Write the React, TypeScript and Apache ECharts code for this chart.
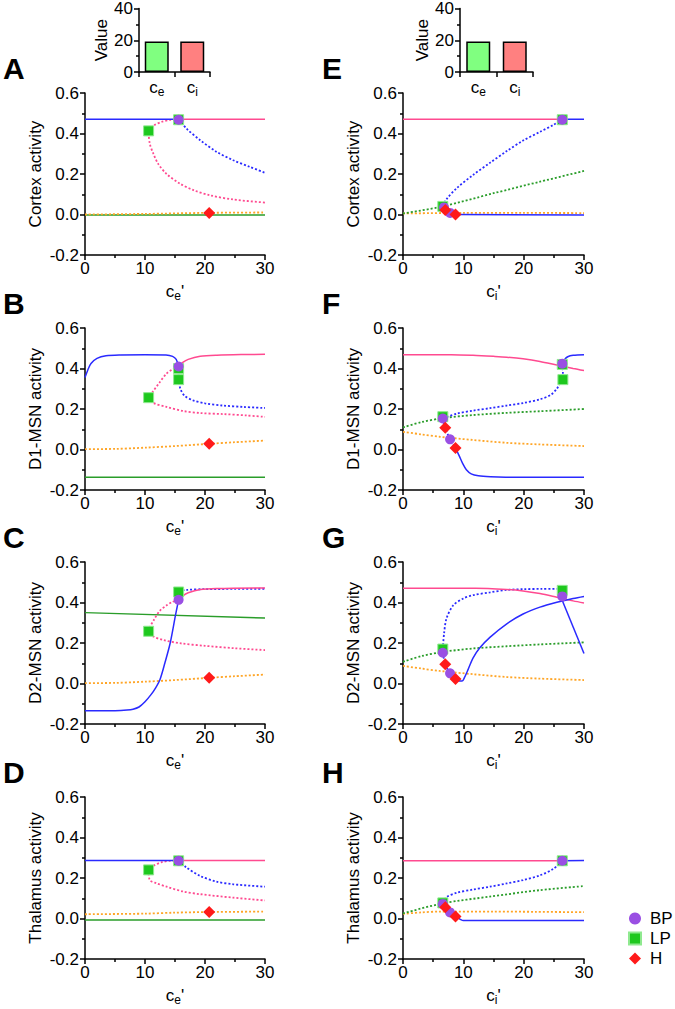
import React, { useEffect, useRef } from 'react';
import * as echarts from 'echarts';

const FONT = "'Liberation Sans', Arial, Helvetica, sans-serif";
const BLUE = '#2a2aff';
const PINK = '#ff4a90';
const GREEN = '#2a9d2a';
const ORANGE = '#ffa526';
const PURPLE = '#9a4fe3';
const LPGREEN = '#1ec81e';
const RED = '#ff1a1a';

// ---------- Bar insets ----------
const barCategories = ['ce', 'ci'];
const barValuesLeft = [19.2, 19.2];
const barValuesRight = [19.2, 19.2];
const barTicks = [0, 20, 40];

// ---------- Panel A: Cortex vs ce' ----------
const aBlueSolid = [[0, 0.47], [15.7, 0.47]];
const aPinkSolid = [[15.7, 0.47], [30, 0.47]];
const aBlueDot = [[15.7, 0.47], [16.9, 0.425], [19.2, 0.367], [21.9, 0.31], [24.7, 0.268], [27.5, 0.235], [30, 0.206]];
const aPinkDot = [[15.7, 0.47], [14.2, 0.467], [12.8, 0.458], [11.5, 0.44], [10.6, 0.41], [10.8, 0.35], [11.4, 0.3], [12.2, 0.25], [13.6, 0.2], [15.8, 0.153], [18.1, 0.12], [20.8, 0.095], [24.7, 0.074], [30, 0.059]];
const aGreenSolid = [[0, -0.003], [30, -0.003]];
const aOrangeDot = [[0, 0.0], [10, 0.003], [20, 0.008], [30, 0.01]];
const aBP = [[15.6, 0.468]];
const aLP = [[10.6, 0.413], [15.6, 0.468]];
const aH = [[20.7, 0.008]];

// ---------- Panel B: D1-MSN vs ce' ----------
const bBlueSolid = [[0, 0.355], [0.5, 0.395], [1, 0.425], [2, 0.45], [3.5, 0.463], [6, 0.467], [10, 0.468], [13.5, 0.467], [14.6, 0.46], [15.2, 0.445], [15.6, 0.41]];
const bPinkSolid = [[15.6, 0.41], [16.3, 0.43], [17.2, 0.445], [19.2, 0.46], [22, 0.466], [26, 0.469], [30, 0.47]];
const bBlueDot = [[15.6, 0.41], [15.6, 0.345], [15.9, 0.3], [16.6, 0.265], [18, 0.243], [20, 0.228], [23, 0.217], [26.5, 0.21], [30, 0.205]];
const bPinkDot = [[15.6, 0.41], [14.7, 0.398], [13.6, 0.375], [12.4, 0.33], [11.3, 0.285], [10.6, 0.255], [11.4, 0.23], [13.6, 0.21], [16.4, 0.19], [19.2, 0.18], [23, 0.175], [27, 0.168], [30, 0.161]];
const bGreenSolid = [[0, -0.137], [30, -0.137]];
const bOrangeDot = [[0, 0.002], [5, 0.003], [10, 0.009], [15, 0.017], [20.7, 0.028], [25, 0.036], [30, 0.044]];
const bBP = [[15.6, 0.41]];
const bLP = [[10.6, 0.256], [15.6, 0.4], [15.6, 0.345]];
const bH = [[20.7, 0.028]];

// ---------- Panel C: D2-MSN vs ce' ----------
const cBlueSolid = [[0, -0.135], [5, -0.134], [7, -0.131], [8, -0.127], [9, -0.116], [10, -0.09], [11, -0.055], [11.8, -0.02], [12.5, 0.02], [13.3, 0.1], [14.2, 0.2], [15.1, 0.34], [15.6, 0.413]];
const cPinkSolid = [[15.6, 0.413], [16.3, 0.433], [17.2, 0.448], [19.2, 0.464], [22, 0.469], [30, 0.472]];
const cBlueDot = [[15.6, 0.413], [15.6, 0.452], [17, 0.462], [20, 0.466], [25, 0.467], [30, 0.468]];
const cPinkDot = [[15.6, 0.413], [14.5, 0.402], [13.6, 0.386], [12.5, 0.36], [11.5, 0.315], [10.6, 0.258], [11.4, 0.232], [13, 0.215], [16, 0.198], [20, 0.186], [25, 0.174], [30, 0.165]];
const cGreenSolid = [[0, 0.35], [30, 0.323]];
const cOrangeDot = [[0, 0.002], [5, 0.003], [10, 0.009], [15, 0.017], [20.7, 0.028], [25, 0.036], [30, 0.044]];
const cBP = [[15.6, 0.413]];
const cLP = [[10.6, 0.258], [15.6, 0.452]];
const cH = [[20.7, 0.028]];

// ---------- Panel D: Thalamus vs ce' ----------
const dBlueSolid = [[0, 0.287], [15.6, 0.287]];
const dPinkSolid = [[15.6, 0.287], [30, 0.287]];
const dBlueDot = [[15.6, 0.287], [16.9, 0.252], [19.2, 0.21], [21.9, 0.182], [24.7, 0.169], [30, 0.157]];
const dPinkDot = [[15.6, 0.287], [14.2, 0.285], [12.8, 0.278], [11.5, 0.262], [10.6, 0.24], [10.8, 0.19], [11.9, 0.174], [13.6, 0.157], [16.4, 0.133], [19.2, 0.12], [24.7, 0.103], [30, 0.089]];
const dGreenSolid = [[0, -0.008], [30, -0.008]];
const dOrangeDot = [[0, 0.021], [10, 0.024], [15, 0.029], [20.7, 0.032], [30, 0.034]];
const dBP = [[15.6, 0.285]];
const dLP = [[10.6, 0.24], [15.6, 0.285]];
const dH = [[20.7, 0.032]];

// ---------- Panel E: Cortex vs ci' ----------
const ePinkSolid = [[0, 0.47], [26.4, 0.47]];
const eBlueSolidTop = [[26.4, 0.47], [30, 0.47]];
const eBlueDot = [[6.6, 0.04], [7.2, 0.075], [8.9, 0.13], [11.6, 0.195], [14.4, 0.255], [17.2, 0.313], [19.9, 0.365], [22.7, 0.408], [24.9, 0.442], [26.4, 0.468]];
const eBlueLowDot = [[6.6, 0.04], [7.0, 0.022], [7.8, 0.008], [8.7, 0.0]];
const eBlueSolidLow = [[8.7, 0.0], [30, -0.003]];
const eGreenDot = [[0, 0.005], [6.6, 0.04], [15, 0.105], [22.7, 0.162], [30, 0.215]];
const eOrangeDot = [[0, 0.005], [10, 0.008], [20, 0.008], [30, 0.007]];
const eBP = [[6.8, 0.035], [7.8, 0.008], [26.4, 0.468]];
const eLP = [[6.6, 0.04], [26.4, 0.468]];
const eH = [[7.0, 0.022], [8.7, 0.0]];

// ---------- Panel F: D1-MSN vs ci' ----------
const fPinkSolid = [[0, 0.468], [8, 0.468], [11.6, 0.465], [15, 0.46], [17.2, 0.456], [19.9, 0.448], [22.7, 0.435], [25.5, 0.417], [28.2, 0.4], [30, 0.39]];
const fBlueSolidTop = [[26.4, 0.424], [26.8, 0.445], [27.3, 0.458], [28.2, 0.465], [30, 0.468]];
const fBlueDot = [[6.6, 0.153], [8.9, 0.177], [11.6, 0.192], [14.4, 0.204], [17.2, 0.217], [20, 0.23], [22.7, 0.248], [24.5, 0.27], [25.5, 0.3], [26.1, 0.33], [26.4, 0.345], [26.5, 0.38], [26.4, 0.424]];
const fBlueLowDot = [[6.6, 0.153], [7.0, 0.108], [7.8, 0.05], [8.7, 0.007]];
const fBlueSolidLow = [[8.7, 0.007], [9.3, -0.03], [9.9, -0.07], [10.5, -0.1], [11.3, -0.12], [12.5, -0.13], [14.5, -0.135], [17, -0.137], [30, -0.137]];
const fGreenDot = [[0, 0.109], [3, 0.135], [6.6, 0.155], [11.6, 0.17], [17.2, 0.181], [22.7, 0.189], [30, 0.2]];
const fOrangeDot = [[0, 0.087], [3, 0.075], [6.1, 0.063], [11.6, 0.047], [17.2, 0.033], [22.7, 0.025], [30, 0.017]];
const fBP = [[6.6, 0.153], [7.8, 0.05], [26.4, 0.424]];
const fLP = [[6.6, 0.162], [26.4, 0.42], [26.5, 0.345]];
const fH = [[7.0, 0.108], [8.7, 0.007]];

// ---------- Panel G: D2-MSN vs ci' ----------
const gPinkSolid = [[0, 0.47], [12, 0.47], [17.2, 0.464], [19.9, 0.457], [22.7, 0.444], [25.5, 0.426], [28.2, 0.408], [30, 0.398]];
const gBlueDot = [[6.6, 0.17], [6.8, 0.245], [7.2, 0.32], [8.3, 0.385], [10, 0.42], [11.6, 0.436], [14.4, 0.45], [17.2, 0.462], [20, 0.466], [23, 0.467], [26.4, 0.468]];
const gBlueLowDot = [[6.6, 0.152], [7.0, 0.095], [7.8, 0.05], [8.7, 0.022]];
const gBlueSolid = [[8.7, 0.022], [9.3, 0.012], [9.8, 0.012], [10.2, 0.03], [10.8, 0.07], [11.6, 0.125], [12.7, 0.175], [14.4, 0.228], [17.2, 0.295], [19.9, 0.343], [22.7, 0.377], [25.5, 0.401], [28.2, 0.42], [30, 0.43]];
const gBlueSolid2 = [[26.4, 0.41], [30, 0.148]];
const gGreenDot = [[0, 0.107], [3, 0.135], [6.6, 0.156], [11.6, 0.173], [17.2, 0.184], [22.7, 0.193], [30, 0.203]];
const gOrangeDot = [[0, 0.087], [3, 0.074], [6.1, 0.062], [11.6, 0.046], [17.2, 0.032], [22.7, 0.024], [30, 0.017]];
const gBP = [[6.6, 0.152], [7.8, 0.05], [26.4, 0.43]];
const gLP = [[6.6, 0.17], [26.4, 0.46]];
const gH = [[7.0, 0.095], [8.7, 0.022]];

// ---------- Panel H: Thalamus vs ci' ----------
const hPinkSolid = [[0, 0.285], [26.4, 0.285]];
const hBlueSolidTop = [[26.4, 0.285], [30, 0.287]];
const hBlueDot = [[6.6, 0.075], [7.2, 0.105], [8.9, 0.127], [11.6, 0.143], [14.4, 0.157], [17.2, 0.173], [19.9, 0.19], [22.7, 0.213], [24.9, 0.245], [26.4, 0.282]];
const hBlueLowDot = [[6.6, 0.072], [7.0, 0.055], [7.8, 0.03], [8.7, 0.01]];
const hBlueSolidLow = [[8.7, 0.01], [9.5, -0.004], [10, -0.01], [30, -0.01]];
const hGreenDot = [[0, 0.025], [6.6, 0.075], [14.4, 0.108], [22.7, 0.14], [30, 0.16]];
const hOrangeDot = [[0, 0.023], [3, 0.03], [6, 0.034], [15, 0.034], [22, 0.033], [30, 0.031]];
const hBP = [[6.6, 0.072], [7.8, 0.03], [26.4, 0.285]];
const hLP = [[6.6, 0.077], [26.4, 0.285]];
const hH = [[7.0, 0.055], [8.7, 0.01]];

const panelLetters = ['A', 'B', 'C', 'D', 'E', 'F', 'G', 'H'];
const yTitles = ['Cortex activity', 'D1-MSN activity', 'D2-MSN activity', 'Thalamus activity'];

type Curve = [number[][], string, boolean];
interface Panel { curves: Curve[]; bp: number[][]; lp: number[][]; h: number[][] }

const panels: Panel[] = [
  { curves: [[aGreenSolid, GREEN, false], [aOrangeDot, ORANGE, true], [aPinkDot, PINK, true], [aBlueDot, BLUE, true], [aBlueSolid, BLUE, false], [aPinkSolid, PINK, false]], bp: aBP, lp: aLP, h: aH },
  { curves: [[bGreenSolid, GREEN, false], [bOrangeDot, ORANGE, true], [bPinkDot, PINK, true], [bBlueDot, BLUE, true], [bBlueSolid, BLUE, false], [bPinkSolid, PINK, false]], bp: bBP, lp: bLP, h: bH },
  { curves: [[cGreenSolid, GREEN, false], [cOrangeDot, ORANGE, true], [cPinkDot, PINK, true], [cBlueDot, BLUE, true], [cBlueSolid, BLUE, false], [cPinkSolid, PINK, false]], bp: cBP, lp: cLP, h: cH },
  { curves: [[dGreenSolid, GREEN, false], [dOrangeDot, ORANGE, true], [dPinkDot, PINK, true], [dBlueDot, BLUE, true], [dBlueSolid, BLUE, false], [dPinkSolid, PINK, false]], bp: dBP, lp: dLP, h: dH },
  { curves: [[eOrangeDot, ORANGE, true], [eGreenDot, GREEN, true], [eBlueDot, BLUE, true], [eBlueLowDot, BLUE, true], [eBlueSolidLow, BLUE, false], [ePinkSolid, PINK, false], [eBlueSolidTop, BLUE, false]], bp: eBP, lp: eLP, h: eH },
  { curves: [[fOrangeDot, ORANGE, true], [fGreenDot, GREEN, true], [fBlueDot, BLUE, true], [fBlueLowDot, BLUE, true], [fBlueSolidLow, BLUE, false], [fPinkSolid, PINK, false], [fBlueSolidTop, BLUE, false]], bp: fBP, lp: fLP, h: fH },
  { curves: [[gOrangeDot, ORANGE, true], [gGreenDot, GREEN, true], [gBlueDot, BLUE, true], [gBlueLowDot, BLUE, true], [gPinkSolid, PINK, false], [gBlueSolid, BLUE, false], [gBlueSolid2, BLUE, false]], bp: gBP, lp: gLP, h: gH },
  { curves: [[hOrangeDot, ORANGE, true], [hGreenDot, GREEN, true], [hBlueDot, BLUE, true], [hBlueLowDot, BLUE, false], [hBlueSolidLow, BLUE, false], [hPinkSolid, PINK, false], [hBlueSolidTop, BLUE, false]], bp: hBP, lp: hLP, h: hH },
];

const COLS = [[85, 265], [403, 584]];
const ROWS = [[93, 255], [328, 490], [562, 724], [797, 959]];
const LETTER_X = [3, 322];

const axisLineStyle = { color: '#000', width: 1.5 };

const richSub = {
  c: { fontSize: 17, fontFamily: FONT, color: '#000' },
  s: { fontSize: 12, fontFamily: FONT, color: '#000', padding: [9, 0, 0, 0] },
};

function buildOption() {
  const grid: any[] = [];
  const xAxis: any[] = [];
  const yAxis: any[] = [];
  const series: any[] = [];
  const graphic: any[] = [];

  panels.forEach((p, i) => {
    const col = i < 4 ? 0 : 1;
    const row = i % 4;
    const [x0, x1] = COLS[col];
    const [y0, y1] = ROWS[row];
    grid.push({ left: x0, top: y0, width: x1 - x0, height: y1 - y0, containLabel: false });
    xAxis.push({
      type: 'value', gridIndex: i, min: 0, max: 30, interval: 10,
      axisLine: { show: true, onZero: false, lineStyle: axisLineStyle },
      axisTick: { show: true, length: 5, lineStyle: axisLineStyle },
      minorTick: { show: true, splitNumber: 2, length: 3, lineStyle: axisLineStyle },
      splitLine: { show: false },
      axisLabel: { fontSize: 17, color: '#000', fontFamily: FONT, margin: 5 },
      name: col === 0 ? "{c|c}{s|e}{c|'}" : "{c|c}{s|i}{c|'}",
      nameLocation: 'middle', nameGap: 26,
      nameTextStyle: { rich: richSub },
    });
    yAxis.push({
      type: 'value', gridIndex: i, min: -0.2, max: 0.6, interval: 0.2,
      axisLine: { show: true, onZero: false, lineStyle: axisLineStyle },
      axisTick: { show: true, length: 5, lineStyle: axisLineStyle },
      minorTick: { show: true, splitNumber: 2, length: 3, lineStyle: axisLineStyle },
      splitLine: { show: false },
      axisLabel: {
        fontSize: 17, color: '#000', fontFamily: FONT, margin: 6,
        formatter: (v: number) => (Math.abs(v) < 1e-9 ? 0 : v).toFixed(1),
      },
      name: yTitles[row], nameLocation: 'middle', nameGap: 41,
      nameTextStyle: { fontSize: 17, fontFamily: FONT, color: '#000' },
    });
    p.curves.forEach(([data, color, dotted]) => {
      series.push({
        type: 'line', xAxisIndex: i, yAxisIndex: i, data, symbol: 'none', showSymbol: false,
        smooth: 0.3, silent: true, z: 2,
        lineStyle: { color, width: dotted ? 1.8 : 1.5, type: dotted ? [2, 2] : 'solid' },
      });
    });
    series.push({
      type: 'scatter', name: 'LP', xAxisIndex: i, yAxisIndex: i, data: p.lp, symbol: 'rect', symbolSize: 10, z: 5,
      itemStyle: { color: LPGREEN, borderColor: '#8fe98f', borderWidth: 1, opacity: 1 },
    });
    series.push({
      type: 'scatter', name: 'BP', xAxisIndex: i, yAxisIndex: i, data: p.bp, symbol: 'circle', symbolSize: 10, z: 6,
      itemStyle: { color: PURPLE, opacity: 1 },
    });
    series.push({
      type: 'scatter', name: 'H', xAxisIndex: i, yAxisIndex: i, data: p.h, symbol: 'diamond', symbolSize: 12, z: 7,
      itemStyle: { color: RED, opacity: 1 },
    });
    graphic.push({
      type: 'text', left: LETTER_X[col], top: y0 - 40,
      style: { text: panelLetters[i], font: `bold 30px ${FONT}`, fill: '#000' },
    });
  });

  // Bar insets
  const barSpecs = [
    { left: 139, width: 71, values: barValuesLeft },
    { left: 460, width: 73, values: barValuesRight },
  ];
  barSpecs.forEach((b, k) => {
    const gi = 8 + k;
    grid.push({ left: b.left, top: 6, width: b.width, height: 66 });
    xAxis.push({
      type: 'category', gridIndex: gi, data: barCategories,
      axisLine: { show: true, lineStyle: axisLineStyle },
      axisTick: { show: true, length: 5, lineStyle: axisLineStyle, alignWithLabel: false },
      axisLabel: {
        margin: 5, color: '#000', interval: 0, hideOverlap: false,
        formatter: (v: string) => `{c|c}{s|${v.slice(1)}}`,
        rich: richSub,
      },
    });
    yAxis.push({
      type: 'value', gridIndex: gi, min: 0, max: 40, interval: 20,
      axisLine: { show: true, lineStyle: axisLineStyle },
      axisTick: { show: true, length: 5, lineStyle: axisLineStyle },
      minorTick: { show: true, splitNumber: 2, length: 3, lineStyle: axisLineStyle },
      splitLine: { show: false },
      axisLabel: { fontSize: 17, color: '#000', fontFamily: FONT, margin: 6,
        customValues: barTicks },
      name: 'Value', nameLocation: 'middle', nameGap: 26,
      nameTextStyle: { fontSize: 17, fontFamily: FONT, color: '#000' },
    });
    series.push({
      type: 'bar', xAxisIndex: gi, yAxisIndex: gi, barWidth: 24, silent: true,
      data: b.values.map((v, j) => ({
        value: v,
        itemStyle: { color: j === 0 ? '#80ff80' : '#ff8080', borderColor: '#000', borderWidth: 1.5 },
      })),
    });
  });

  return {
    animation: false,
    backgroundColor: '#fff',
    textStyle: { fontFamily: FONT },
    grid, xAxis, yAxis, series, graphic,
    legend: {
      orient: 'vertical', left: 628, top: 910, padding: 0, itemWidth: 12, itemHeight: 12, itemGap: 3,
      selectedMode: false,
      data: [{ name: 'BP', icon: 'circle' }, { name: 'LP', icon: 'rect' }, { name: 'H', icon: 'diamond' }],
      textStyle: { fontSize: 17, fontFamily: FONT, color: '#000', padding: [0, 0, 0, 4] },
    },
  };
}

export default function App() {
  const ref = useRef<HTMLDivElement>(null);
  useEffect(() => {
    if (!ref.current) return;
    const chart = echarts.init(ref.current, undefined, { renderer: 'svg' });
    chart.setOption(buildOption() as any);
    return () => chart.dispose();
  }, []);
  return <div ref={ref} style={{ position: 'absolute', left: 0, top: 0, width: 675, height: 1009 }} />;
}
